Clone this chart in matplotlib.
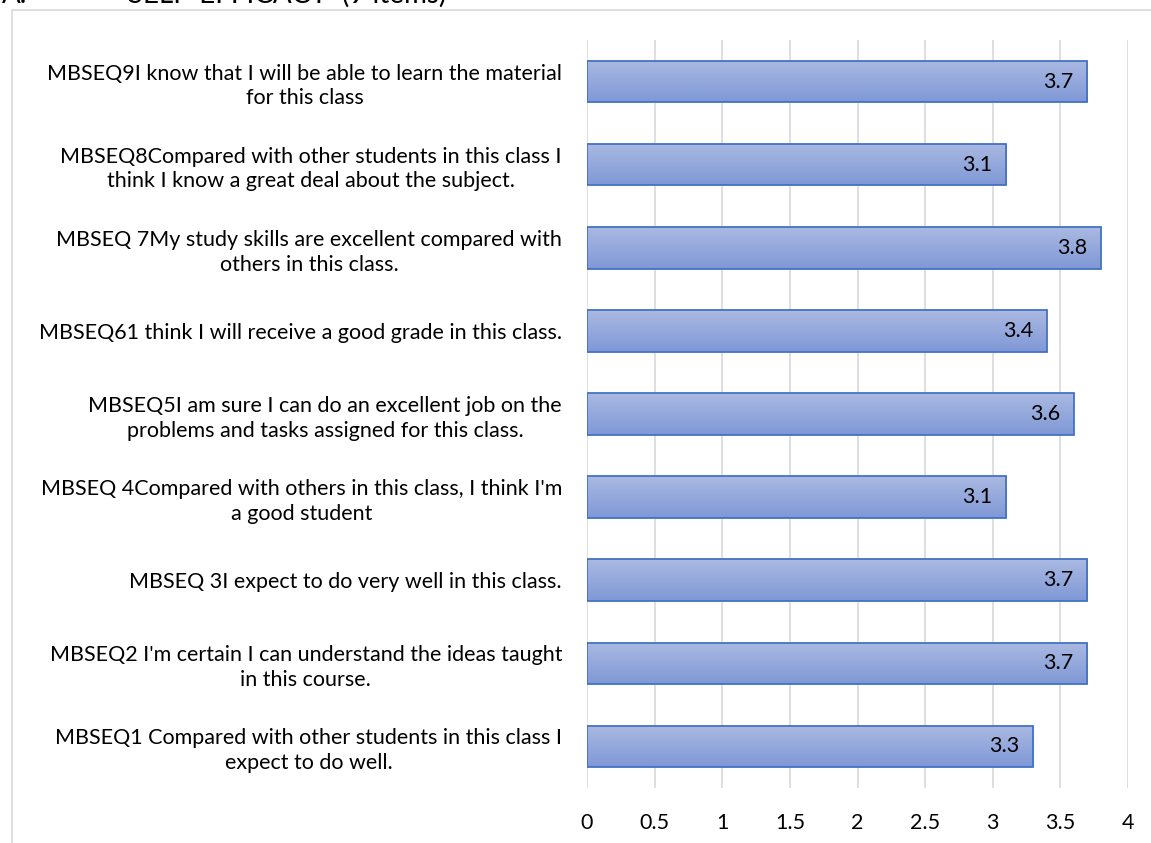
import numpy as np
import matplotlib.pyplot as plt
from matplotlib.patches import Rectangle

# Item labels, top to bottom as shown in the chart
labels = [
    "MBSEQ9I know that I will be able to learn the material\nfor this class",
    "MBSEQ8Compared with other students in this class I\nthink I know a great deal about the subject.",
    "MBSEQ 7My study skills are excellent compared with\nothers in this class.",
    "MBSEQ61 think I will receive a good grade in this class.",
    "MBSEQ5I am sure I can do an excellent job on the\nproblems and tasks assigned for this class.",
    "MBSEQ 4Compared with others in this class, I think I'm\na good student",
    "MBSEQ 3I expect to do very well in this class.",
    "MBSEQ2 I'm certain I can understand the ideas taught\nin this course.",
    "MBSEQ1 Compared with other students in this class I\nexpect to do well.",
]
means = [3.7, 3.1, 3.8, 3.4, 3.6, 3.1, 3.7, 3.7, 3.3]
xticks = [0, 0.5, 1, 1.5, 2, 2.5, 3, 3.5, 4]

plt.rcParams['font.family'] = ['Lato', 'DejaVu Sans']
fs = 15.5

fig = plt.figure(figsize=(11.51, 8.43), dpi=100)
ax = fig.add_axes([587 / 1151, 55 / 843, (1128 - 587) / 1151, (803 - 55) / 843])

# chart frame (light gray border)
fig.patches.append(Rectangle((12 / 1151, -0.01), 1.0, 1 - 10 / 843 + 0.01,
                             transform=fig.transFigure, fill=False,
                             edgecolor='#D9D9D9', linewidth=1.2, zorder=0))

# section title above the frame, mostly cut off by the page edge
fig.text(2 / 1151, 1 - 3 / 843, "A.", fontsize=20, va='baseline', ha='left')
fig.text(128 / 1151, 1 - 3 / 843, "SELF-EFFICACY  (9 items)", fontsize=20,
         va='baseline', ha='left')

y = np.arange(len(labels))
height = 0.5

# vertical gradient for the bars (light top, darker bottom)
grad = np.linspace(0, 1, 64).reshape(-1, 1)
top_c = np.array([0xAA, 0xB9, 0xE2]) / 255
bot_c = np.array([0x7F, 0x98, 0xD6]) / 255
img = top_c[None, None, :] * (1 - grad[:, :, None]) + bot_c[None, None, :] * grad[:, :, None]

bars = ax.barh(y, means, height=height, color='none', edgecolor='#4472C4',
               linewidth=1.3, zorder=3)
for b in bars:
    x0, y0 = b.get_x(), b.get_y()
    w, h = b.get_width(), b.get_height()
    im = ax.imshow(img, extent=[x0, x0 + w, y0 + h, y0], aspect='auto',
                   zorder=2, interpolation='bilinear')
    im.set_clip_path(b)

for yi, v in zip(y, means):
    ax.annotate(f"{v:.1f}", xy=(v, yi), xytext=(-10, 0), textcoords='offset points',
                ha='right', va='center', fontsize=fs, color='#000000', zorder=4)

ax.set_xlim(0, 4)
ax.set_ylim(len(labels) - 0.5, -0.5)
ax.set_xticks(xticks)
ax.set_xticklabels([f"{t:g}" for t in xticks], fontsize=fs)
ax.set_yticks(y)
ax.set_yticklabels(labels, fontsize=fs, multialignment='center', linespacing=1.3)
ax.tick_params(axis='both', length=0)
ax.tick_params(axis='y', pad=18)
ax.tick_params(axis='x', pad=18)
ax.grid(axis='x', color='#D9D9D9', linewidth=1.2, zorder=0)
ax.set_axisbelow(True)
for s in ax.spines.values():
    s.set_visible(False)

fig.savefig('out.png', dpi=100)
